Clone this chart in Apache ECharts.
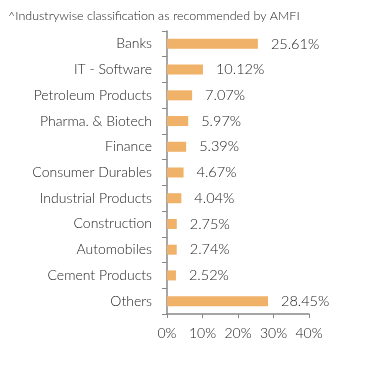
<!DOCTYPE html>
<html><head><meta charset="utf-8">
<script src="https://cdn.jsdelivr.net/npm/echarts@6/dist/echarts.min.js"></script>
<style>html,body{margin:0;padding:0;background:#fff}#c{width:391px;height:367px}</style>
</head><body><div id="c"></div>
<script>
const categories = ["Banks","IT - Software","Petroleum Products","Pharma. & Biotech","Finance","Consumer Durables","Industrial Products","Construction","Automobiles","Cement Products","Others"];
const values = [25.61,10.12,7.07,5.97,5.39,4.67,4.04,2.75,2.74,2.52,28.45];
const xTicks = [0,10,20,30,40];
const titleText = "^Industrywise classification as recommended by AMFI";
const font = "Lato";
const chart = echarts.init(document.getElementById('c'), null, {renderer:'canvas'});
chart.setOption({
  animation:false,
  title:{text:titleText,left:8,top:9,padding:0,textStyle:{fontFamily:font,fontSize:12.5,fontWeight:300,color:'#222'}},
  grid:{left:167,right:82,top:31,bottom:53,containLabel:false},
  xAxis:{type:'value',min:xTicks[0],max:xTicks[xTicks.length-1],interval:10,
    axisLine:{show:true,lineStyle:{color:'#888',width:1.5}},
    axisTick:{show:true,length:4,lineStyle:{color:'#888'}},
    splitLine:{show:false},
    axisLabel:{fontFamily:font,fontSize:14,fontWeight:300,color:'#222',margin:12,formatter:v=>v+'%'}},
  yAxis:{type:'category',data:categories,inverse:true,
    axisLine:{lineStyle:{color:'#888',width:1.5}},
    axisTick:{show:true,length:5,lineStyle:{color:'#888'}},
    axisLabel:{fontFamily:font,fontSize:14,fontWeight:300,color:'#222',margin:15}},
  series:[{type:'bar',data:values,barWidth:10,
    itemStyle:{color:'#F0B168'},
    label:{show:true,position:'right',distance:13,fontFamily:font,fontSize:14.5,fontWeight:300,color:'#222',formatter:p=>p.value.toFixed(2)+'%'}}]
});
</script></body></html>
